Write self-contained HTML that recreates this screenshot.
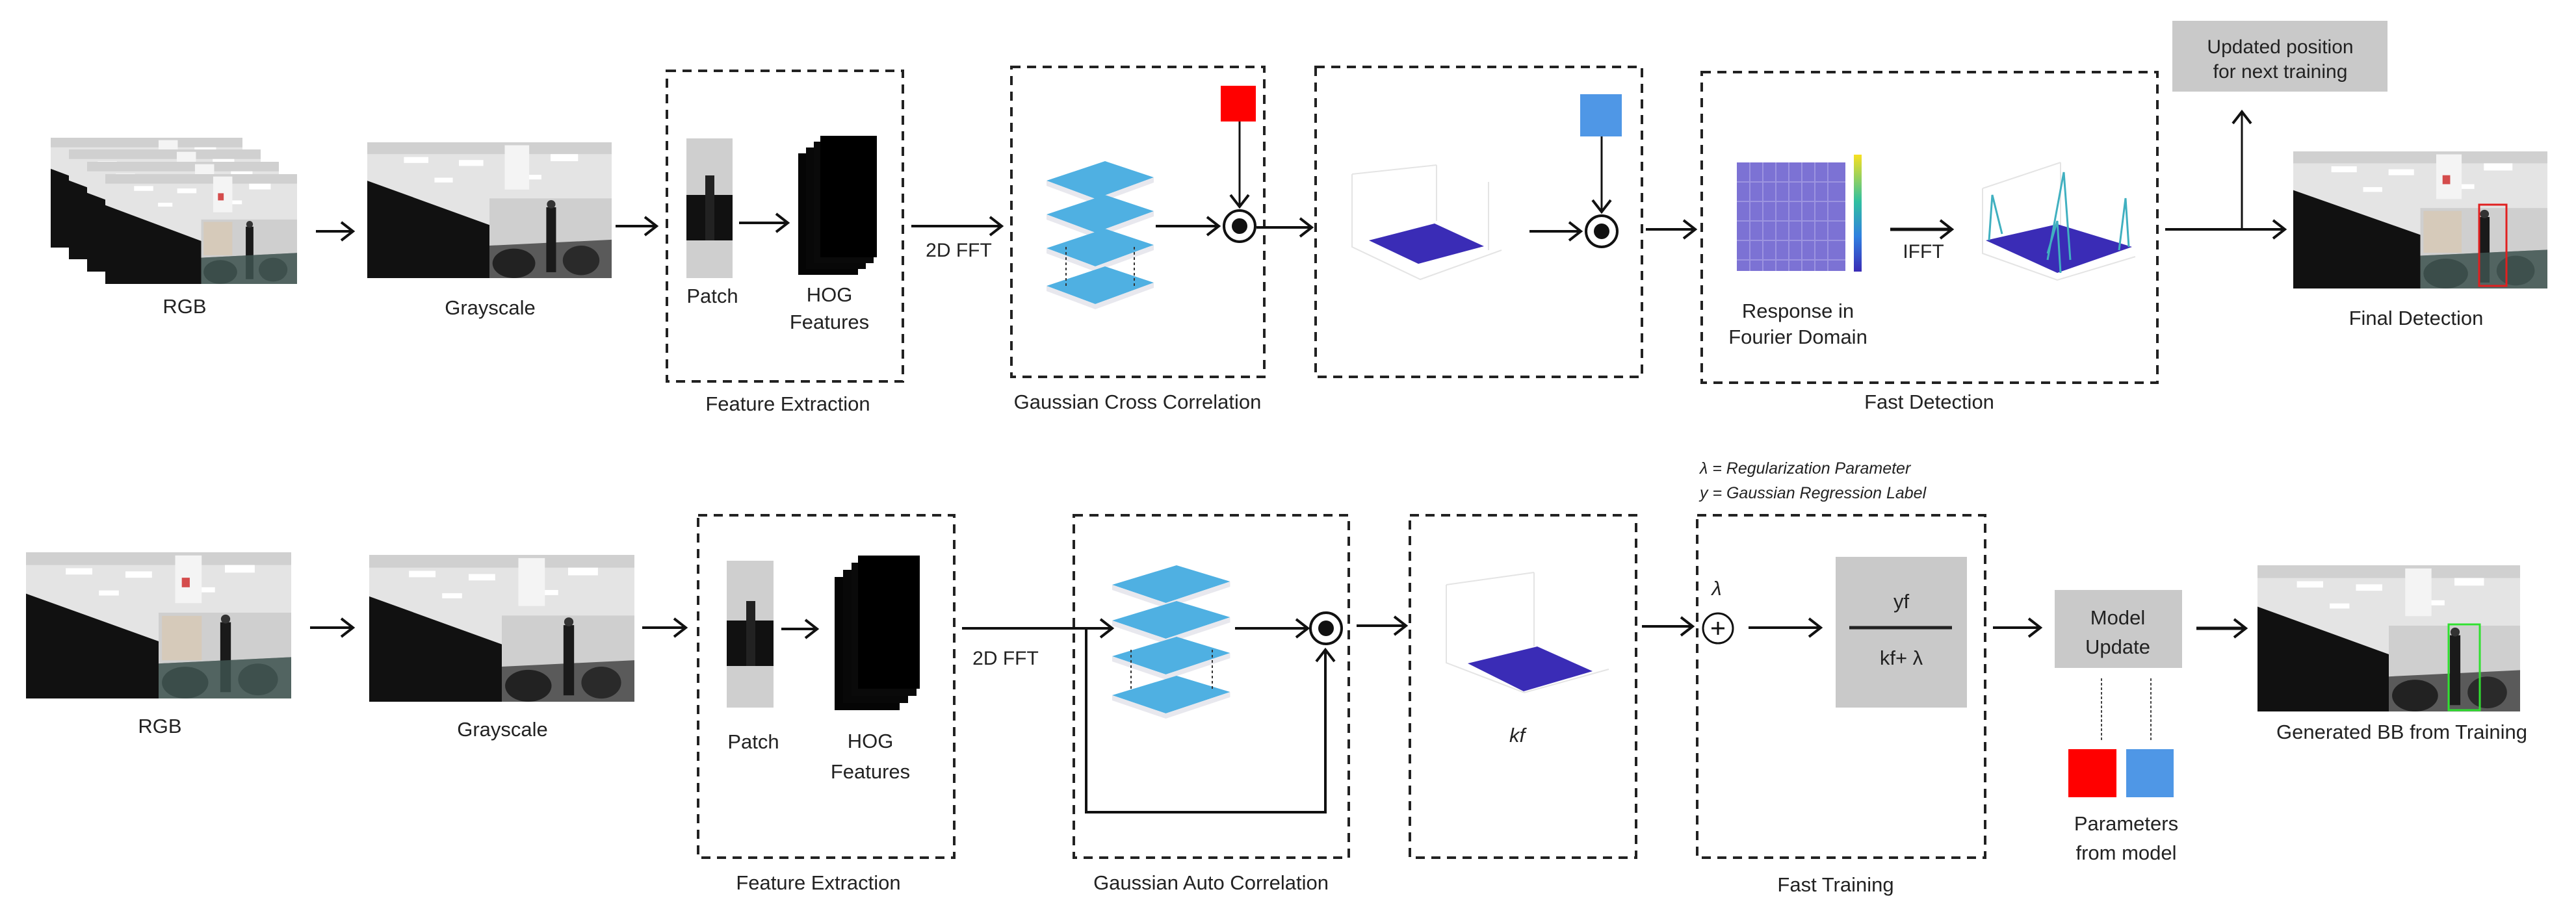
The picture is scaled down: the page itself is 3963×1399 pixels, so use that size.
<!DOCTYPE html>
<html><head><meta charset="utf-8"><style>
html,body{margin:0;padding:0;background:#fff;}
svg{display:block;}
text{font-family:"Liberation Sans",sans-serif;fill:#222;}
</style></head><body>
<svg width="3963" height="1399" viewBox="0 0 3963 1399" xmlns="http://www.w3.org/2000/svg">
<defs>
<marker id="ah" markerUnits="userSpaceOnUse" markerWidth="30" markerHeight="34" refX="24" refY="17" orient="auto">
<path d="M6,3 L24,17 L6,31" fill="none" stroke="#111" stroke-width="4"/>
</marker>
<symbol id="scene" viewBox="0 0 400 230" preserveAspectRatio="none">
<rect width="400" height="230" fill="#e4e4e4"/>
<rect x="0" y="0" width="400" height="20" fill="#d0d0d0"/>
<rect x="60" y="25" width="40" height="10" fill="#fff"/><rect x="150" y="30" width="40" height="10" fill="#fff"/><rect x="300" y="20" width="45" height="12" fill="#fff"/><rect x="250" y="55" width="35" height="8" fill="#fff"/><rect x="110" y="60" width="30" height="8" fill="#fff"/>
<rect x="225" y="5" width="40" height="75" fill="#f4f4f4"/>
<rect x="200" y="95" width="200" height="80" fill="#cfcfcf"/>
<polygon points="0,65 200,140 200,230 0,230" fill="#111"/>
<polygon points="200,175 400,165 400,230 200,230" fill="#5a5a5a"/>
<ellipse cx="240" cy="205" rx="35" ry="25" fill="#222"/>
<ellipse cx="350" cy="200" rx="30" ry="25" fill="#2a2a2a"/>
<rect x="293" y="110" width="16" height="110" fill="#1a1a1a"/>
<circle cx="301" cy="105" r="7" fill="#333"/>
</symbol>
<symbol id="cscene" viewBox="0 0 400 230" preserveAspectRatio="none">
<use href="#scene" width="400" height="230"/>
<rect x="205" y="100" width="60" height="70" fill="#d8c8b0" opacity="0.7"/>
<rect x="235" y="40" width="12" height="15" fill="#c22" opacity="0.8"/>
<polygon points="200,175 400,165 400,230 200,230" fill="#4d6b66" opacity="0.6"/>
</symbol>
<g id="layers">
<polygon points="0,30 90,0 165,25 75,58" fill="#4fb0e2"/>
<polygon points="0,30 75,58 165,25 165,33 75,66 0,38" fill="#e8e8ee"/>
</g>
</defs>

<!-- ================= TOP ROW ================= -->
<!-- RGB stack -->
<use href="#cscene" x="78" y="212" width="295" height="169"/>
<use href="#cscene" x="106" y="230" width="295" height="169"/>
<use href="#cscene" x="134" y="249" width="295" height="169"/>
<use href="#cscene" x="162" y="268" width="295" height="169"/>
<text x="284" y="482" font-size="31" text-anchor="middle">RGB</text>
<line x1="486" y1="356" x2="543" y2="356" stroke="#111" stroke-width="4" marker-end="url(#ah)"/>
<use href="#scene" x="565" y="219" width="376" height="209"/>
<text x="754" y="484" font-size="31" text-anchor="middle">Grayscale</text>
<line x1="947" y1="348" x2="1010" y2="348" stroke="#111" stroke-width="4" marker-end="url(#ah)"/>

<rect x="1026" y="109" width="363" height="478" fill="none" stroke="#222" stroke-width="4" stroke-dasharray="14 10"/>
<text x="1212" y="632" font-size="31" text-anchor="middle">Feature Extraction</text>
<rect x="1056" y="213" width="71" height="215" fill="#cfcfcf"/>
<rect x="1056" y="300" width="71" height="70" fill="#111"/>
<rect x="1085" y="270" width="14" height="100" fill="#222"/>
<text x="1096" y="466" font-size="31" text-anchor="middle">Patch</text>
<line x1="1137" y1="343" x2="1212" y2="343" stroke="#111" stroke-width="4" marker-end="url(#ah)"/>
<rect x="1228" y="236" width="92" height="187" fill="#050505"/>
<rect x="1240" y="227" width="92" height="187" fill="#080808"/>
<rect x="1252" y="218" width="92" height="187" fill="#0a0a0a"/>
<rect x="1262" y="209" width="87" height="187" fill="#000"/>
<text x="1276" y="464" font-size="31" text-anchor="middle">HOG</text>
<text x="1276" y="506" font-size="31" text-anchor="middle">Features</text>
<line x1="1402" y1="348" x2="1541" y2="348" stroke="#111" stroke-width="4" marker-end="url(#ah)"/>
<text x="1475" y="395" font-size="30" text-anchor="middle">2D FFT</text>

<rect x="1556" y="103" width="389" height="477" fill="none" stroke="#222" stroke-width="4" stroke-dasharray="14 10"/>
<text x="1750" y="629" font-size="31" text-anchor="middle">Gaussian Cross Correlation</text>
<use href="#layers" x="1610" y="248"/>
<use href="#layers" x="1610" y="300"/>
<use href="#layers" x="1610" y="352"/>
<use href="#layers" x="1610" y="410"/>
<line x1="1640" y1="380" x2="1640" y2="440" stroke="#333" stroke-width="2" stroke-dasharray="4 4"/>
<line x1="1745" y1="380" x2="1745" y2="440" stroke="#333" stroke-width="2" stroke-dasharray="4 4"/>
<line x1="1778" y1="348" x2="1875" y2="348" stroke="#111" stroke-width="4" marker-end="url(#ah)"/>
<rect x="1878" y="132" width="54" height="55" fill="#f00"/>
<line x1="1907" y1="187" x2="1907" y2="318" stroke="#111" stroke-width="3" marker-end="url(#ah)"/>
<circle cx="1907" cy="348" r="24" fill="#fff" stroke="#111" stroke-width="4"/>
<circle cx="1907" cy="348" r="12" fill="#111"/>
<line x1="1933" y1="350" x2="2018" y2="350" stroke="#111" stroke-width="4" marker-end="url(#ah)"/>

<rect x="2024" y="103" width="502" height="477" fill="none" stroke="#222" stroke-width="4" stroke-dasharray="14 10"/>
<g stroke="#e4e4e4" stroke-width="2" fill="none">
<polyline points="2080,268 2080,380 2185,430 2310,385"/><line x1="2210" y1="254" x2="2210" y2="340"/><line x1="2290" y1="280" x2="2290" y2="385"/><line x1="2080" y1="268" x2="2210" y2="254"/>
</g>
<polygon points="2106,370 2207,344 2283,379 2182,406" fill="#3a2cb6"/>
<line x1="2353" y1="356" x2="2432" y2="356" stroke="#111" stroke-width="4" marker-end="url(#ah)"/>
<rect x="2431" y="145" width="64" height="65" fill="#4f97e6"/>
<line x1="2464" y1="210" x2="2464" y2="326" stroke="#111" stroke-width="3" marker-end="url(#ah)"/>
<circle cx="2464" cy="356" r="24" fill="#fff" stroke="#111" stroke-width="4"/>
<circle cx="2464" cy="356" r="12" fill="#111"/>
<line x1="2532" y1="353" x2="2608" y2="353" stroke="#111" stroke-width="4" marker-end="url(#ah)"/>

<rect x="2618" y="111" width="701" height="478" fill="none" stroke="#222" stroke-width="4" stroke-dasharray="14 10"/>
<text x="2968" y="629" font-size="31" text-anchor="middle">Fast Detection</text>
<rect x="2672" y="250" width="167" height="167" fill="#7c72d4"/>
<g stroke="#9c94e0" stroke-width="2">
<line x1="2692" y1="250" x2="2692" y2="417"/><line x1="2712" y1="250" x2="2712" y2="417"/><line x1="2732" y1="250" x2="2732" y2="417"/><line x1="2752" y1="250" x2="2752" y2="417"/><line x1="2772" y1="250" x2="2772" y2="417"/><line x1="2792" y1="250" x2="2792" y2="417"/><line x1="2812" y1="250" x2="2812" y2="417"/>
<line x1="2672" y1="280" x2="2839" y2="280"/><line x1="2672" y1="310" x2="2839" y2="310"/><line x1="2672" y1="340" x2="2839" y2="340"/><line x1="2672" y1="370" x2="2839" y2="370"/><line x1="2672" y1="400" x2="2839" y2="400"/>
</g>
<linearGradient id="cb" x1="0" y1="0" x2="0" y2="1"><stop offset="0" stop-color="#f8e020"/><stop offset="0.4" stop-color="#30c0a0"/><stop offset="0.7" stop-color="#3080e0"/><stop offset="1" stop-color="#3a2cb6"/></linearGradient>
<rect x="2852" y="238" width="12" height="180" fill="url(#cb)"/>
<text x="2766" y="489" font-size="31" text-anchor="middle">Response in</text>
<text x="2766" y="529" font-size="31" text-anchor="middle">Fourier Domain</text>
<line x1="2908" y1="353" x2="3003" y2="353" stroke="#111" stroke-width="5" marker-end="url(#ah)"/>
<text x="2959" y="397" font-size="30" text-anchor="middle">IFFT</text>
<g stroke="#e4e4e4" stroke-width="2" fill="none">
<polyline points="3050,290 3050,390 3165,431 3285,395"/><line x1="3170" y1="250" x2="3170" y2="350"/><line x1="3050" y1="290" x2="3170" y2="250"/>
</g>
<polygon points="3055,370 3165,345 3280,380 3165,420" fill="#3a2cb6"/>
<g stroke="#40b0c0" stroke-width="3" fill="none">
<polyline points="3060,370 3065,300 3080,360"/><polyline points="3150,400 3175,265 3185,400"/><polyline points="3260,385 3270,305 3275,380"/><polyline points="3170,420 3165,340 3150,390"/>
</g>
<line x1="3331" y1="353" x2="3515" y2="353" stroke="#111" stroke-width="4" marker-end="url(#ah)"/>
<line x1="3449" y1="353" x2="3449" y2="172" stroke="#111" stroke-width="3" marker-end="url(#ah)"/>
<rect x="3342" y="32" width="331" height="109" fill="#c9c9c9"/>
<text x="3508" y="82" font-size="30" text-anchor="middle">Updated position</text>
<text x="3508" y="120" font-size="30" text-anchor="middle">for next training</text>
<use href="#cscene" x="3528" y="233" width="391" height="211"/>
<rect x="3814" y="315" width="42" height="125" fill="none" stroke="#e02020" stroke-width="3"/>
<text x="3717" y="500" font-size="31" text-anchor="middle">Final Detection</text>

<!-- ================= BOTTOM ROW ================= -->
<use href="#cscene" x="40" y="850" width="408" height="225"/>
<text x="246" y="1128" font-size="31" text-anchor="middle">RGB</text>
<line x1="477" y1="966" x2="543" y2="966" stroke="#111" stroke-width="4" marker-end="url(#ah)"/>
<use href="#scene" x="568" y="854" width="408" height="226"/>
<text x="773" y="1133" font-size="31" text-anchor="middle">Grayscale</text>
<line x1="988" y1="966" x2="1055" y2="966" stroke="#111" stroke-width="4" marker-end="url(#ah)"/>

<rect x="1074" y="793" width="394" height="527" fill="none" stroke="#222" stroke-width="4" stroke-dasharray="14 10"/>
<text x="1259" y="1369" font-size="31" text-anchor="middle">Feature Extraction</text>
<rect x="1118" y="863" width="72" height="226" fill="#cfcfcf"/>
<rect x="1118" y="955" width="72" height="70" fill="#111"/>
<rect x="1148" y="925" width="14" height="100" fill="#222"/>
<text x="1159" y="1152" font-size="31" text-anchor="middle">Patch</text>
<line x1="1202" y1="968" x2="1257" y2="968" stroke="#111" stroke-width="4" marker-end="url(#ah)"/>
<rect x="1284" y="888" width="100" height="205" fill="#050505"/>
<rect x="1297" y="877" width="100" height="205" fill="#080808"/>
<rect x="1310" y="866" width="100" height="205" fill="#0a0a0a"/>
<rect x="1320" y="855" width="95" height="205" fill="#000"/>
<text x="1339" y="1151" font-size="31" text-anchor="middle">HOG</text>
<text x="1339" y="1198" font-size="31" text-anchor="middle">Features</text>
<line x1="1480" y1="967" x2="1711" y2="967" stroke="#111" stroke-width="4" marker-end="url(#ah)"/>
<text x="1547" y="1023" font-size="30" text-anchor="middle">2D FFT</text>
<polyline points="1671,967 1671,1250 2039,1250 2039,1000" fill="none" stroke="#111" stroke-width="4" marker-end="url(#ah)"/>

<rect x="1652" y="793" width="423" height="527" fill="none" stroke="#222" stroke-width="4" stroke-dasharray="14 10"/>
<text x="1863" y="1369" font-size="31" text-anchor="middle">Gaussian Auto Correlation</text>
<g transform="translate(1711,0) scale(1.1,1)">
<use href="#layers" x="0" y="870"/>
<use href="#layers" x="0" y="925"/>
<use href="#layers" x="0" y="980"/>
<use href="#layers" x="0" y="1040"/>
</g>
<line x1="1740" y1="1000" x2="1740" y2="1060" stroke="#333" stroke-width="2" stroke-dasharray="4 4"/>
<line x1="1865" y1="1000" x2="1865" y2="1060" stroke="#333" stroke-width="2" stroke-dasharray="4 4"/>
<line x1="1900" y1="967" x2="2012" y2="967" stroke="#111" stroke-width="4" marker-end="url(#ah)"/>
<circle cx="2040" cy="967" r="24" fill="#fff" stroke="#111" stroke-width="4"/>
<circle cx="2040" cy="967" r="12" fill="#111"/>
<line x1="2087" y1="963" x2="2163" y2="963" stroke="#111" stroke-width="4" marker-end="url(#ah)"/>

<rect x="2169" y="793" width="348" height="527" fill="none" stroke="#222" stroke-width="4" stroke-dasharray="14 10"/>
<g stroke="#e4e4e4" stroke-width="2" fill="none">
<polyline points="2225,900 2225,1020 2345,1066 2475,1030"/><line x1="2360" y1="881" x2="2360" y2="995"/><line x1="2225" y1="900" x2="2360" y2="881"/>
</g>
<polygon points="2258,1021 2365,995 2450,1033 2344,1064" fill="#3a2cb6"/>
<text x="2334" y="1142" font-size="31" font-style="italic" text-anchor="middle">kf</text>
<line x1="2526" y1="964" x2="2604" y2="964" stroke="#111" stroke-width="4" marker-end="url(#ah)"/>

<text x="2615" y="729" font-size="25" font-style="italic">λ = Regularization Parameter</text>
<text x="2615" y="767" font-size="25" font-style="italic">y = Gaussian Regression Label</text>
<rect x="2611" y="793" width="443" height="527" fill="none" stroke="#222" stroke-width="4" stroke-dasharray="14 10"/>
<text x="2824" y="1372" font-size="31" text-anchor="middle">Fast Training</text>
<text x="2641" y="916" font-size="31" font-style="italic" text-anchor="middle">λ</text>
<circle cx="2643" cy="967" r="23" fill="#fff" stroke="#111" stroke-width="3"/>
<line x1="2633" y1="967" x2="2653" y2="967" stroke="#111" stroke-width="3"/>
<line x1="2643" y1="957" x2="2643" y2="977" stroke="#111" stroke-width="3"/>
<line x1="2690" y1="966" x2="2801" y2="966" stroke="#111" stroke-width="4" marker-end="url(#ah)"/>
<rect x="2824" y="857" width="202" height="232" fill="#c9c9c9"/>
<text x="2925" y="936" font-size="31" text-anchor="middle">yf</text>
<line x1="2845" y1="966" x2="3003" y2="966" stroke="#222" stroke-width="5"/>
<text x="2925" y="1023" font-size="31" text-anchor="middle">kf+ λ</text>
<line x1="3066" y1="966" x2="3139" y2="966" stroke="#111" stroke-width="4" marker-end="url(#ah)"/>

<rect x="3161" y="908" width="196" height="120" fill="#c9c9c9"/>
<text x="3258" y="961" font-size="31" text-anchor="middle">Model</text>
<text x="3258" y="1006" font-size="31" text-anchor="middle">Update</text>
<line x1="3233" y1="1044" x2="3233" y2="1142" stroke="#444" stroke-width="2" stroke-dasharray="4 3"/>
<line x1="3309" y1="1044" x2="3309" y2="1142" stroke="#444" stroke-width="2" stroke-dasharray="4 3"/>
<rect x="3182" y="1153" width="74" height="74" fill="#f00"/>
<rect x="3271" y="1153" width="73" height="74" fill="#4f97e6"/>
<text x="3271" y="1278" font-size="31" text-anchor="middle">Parameters</text>
<text x="3271" y="1323" font-size="31" text-anchor="middle">from model</text>
<line x1="3379" y1="967" x2="3455" y2="967" stroke="#111" stroke-width="5" marker-end="url(#ah)"/>
<use href="#scene" x="3473" y="870" width="404" height="225"/>
<rect x="3767" y="961" width="48" height="132" fill="none" stroke="#30e030" stroke-width="3"/>
<text x="3695" y="1137" font-size="31" text-anchor="middle">Generated BB from Training</text>
</svg>
</body></html>
